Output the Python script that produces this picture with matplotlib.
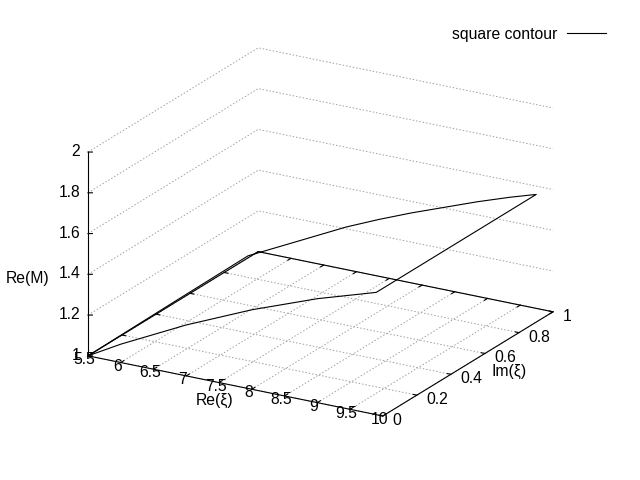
import matplotlib
matplotlib.use("Agg")
import matplotlib.pyplot as plt
import numpy as np

plt.rcParams['font.family'] = ['Liberation Sans', 'DejaVu Sans']
plt.rcParams['font.size'] = 11.3

# square contour in the xi plane, Re(M) read along each edge
re_low, re_high = 5.5, 9.9
im_low, im_high = 0.0, 0.94

# edge Im(xi) = im_low, going right
bottom_re = [5.5, 6.0, 6.5, 7.0, 7.5, 8.0, 8.5, 9.0, 9.5, 9.9]
bottom_m = [1.00, 1.09, 1.17, 1.25, 1.32, 1.39, 1.45, 1.51, 1.56, 1.60]
# edge Re(xi) = re_high, going up
right_im = [0.0, 0.94]
right_m = [1.60, 1.60]
# edge Im(xi) = im_high, going left
top_re = [9.9, 9.5, 9.0, 8.5, 8.0, 7.5, 7.0, 6.5, 6.0, 5.75, 5.5]
top_m = [1.60, 1.56, 1.505, 1.445, 1.385, 1.32, 1.25, 1.17, 1.09, 1.05, 1.01]
# edge Re(xi) = re_low, going back down
left_im = [0.94, 0.5, 0.0]
left_m = [1.01, 1.006, 1.0]

xticks = [5.5, 6, 6.5, 7, 7.5, 8, 8.5, 9, 9.5, 10]
yticks = [0, 0.2, 0.4, 0.6, 0.8, 1]
zticks = [1, 1.2, 1.4, 1.6, 1.8, 2]
x0, x1 = 5.5, 10
y0, y1 = 0, 1
z0, z1 = 1, 2

# whole contour
path_re = np.concatenate([bottom_re, np.full(len(right_im), re_high), top_re, np.full(len(left_im), re_low)])
path_im = np.concatenate([np.full(len(bottom_re), im_low), right_im, np.full(len(top_re), im_high), left_im])
path_m = np.concatenate([bottom_m, right_m, top_m, left_m])

W, H = 640, 480
fig = plt.figure(figsize=(W / 100, H / 100), dpi=100)
ax = fig.add_axes([0.15, 0.05, 0.67, 0.89], projection='3d', proj_type='ortho')
ax.set_box_aspect((1, 1, 0.64), zoom=1.2)
ax.view_init(elev=20.7, azim=-60)
ax.set_xlim(x0, x1)
ax.set_ylim(y0, y1)
ax.set_zlim(z0, z1)
ax.set_axis_off()
ax.computed_zorder = False


def project(xs, ys, zs):
    # data -> 2d projected coords of the 3d axes
    xs, ys, zs = np.broadcast_arrays(*[np.asarray(v, dtype=float) for v in (xs, ys, zs)])
    v = ax.get_proj() @ np.vstack([xs.ravel(), ys.ravel(), zs.ravel(), np.ones(xs.size)])
    return v[0] / v[3], v[1] / v[3]


# fit the projected box to the frame gnuplot used
fig.canvas.draw()
cx, cy, cz = np.meshgrid([x0, x1], [y0, y1], [z0, z1])
px, py = project(cx, cy, cz)
pix = ax.transData.transform(np.column_stack([px, py]))
pos = ax.get_position()
L, B, S = pos.x0 * W, pos.y0 * H, pos.width * W
k = (553 - 88) / (pix[:, 0].max() - pix[:, 0].min())
L2 = 88 - (pix[:, 0].min() - L) * k
B2 = (H - 416) - (pix[:, 1].min() - B) * k
ax.set_position([L2 / W, B2 / H, S * k / W, S * k / H])

grid_kw = dict(color='#a0a0a0', lw=0.7, ls=(0, (1.5, 2)), clip_on=False)
for x in xticks:
    ax.plot([x, x], [y0, y1], [z0, z0], **grid_kw)
for y in yticks:
    ax.plot([x0, x1], [y, y], [z0, z0], **grid_kw)
for z in zticks:
    ax.plot([x0, x0, x1], [y0, y1, y1], [z, z, z], **grid_kw)

# border
bk = dict(color='black', lw=0.8, clip_on=False)
ax.plot([x0, x1, x1, x0, x0], [y0, y0, y1, y1, y0], [z0] * 5, **bk)
ax.plot([x0, x0], [y0, y0], [z0, z1], **bk)


def label(x, y, z, s, **kw):
    u, v = project(x, y, z)
    ax.text2D(u[0], v[0], s, transform=ax.transData, **kw)


# tics (with mirrors on the back border)
for x in xticks:
    ax.plot([x, x], [y0, y0 + 0.018], [z0, z0], **bk)
    ax.plot([x, x], [y1, y1 - 0.018], [z0, z0], **bk)
    label(x, y0 - 0.02, z0 - 0.008, '%g' % x, ha='center', va='center')
for y in yticks:
    ax.plot([x1, x1 - 0.055], [y, y], [z0, z0], **bk)
    ax.plot([x0, x0 + 0.055], [y, y], [z0, z0], **bk)
    label(x1 + 0.15, y, z0 - 0.012, '%g' % y, ha='left', va='center')
for z in zticks:
    ax.plot([x0, x0 + 0.05], [y0, y0 + 0.0065], [z, z], **bk)
    label(x0 - 0.12, y0, z - 0.006, '%g' % z, ha='right', va='center')

label(4.58, y0, 1.32, 'Re(M)', ha='center', va='center')
label(7.43, y0, 0.91, 'Re(ξ)', ha='center', va='center')
label(10.5, 0.55, 0.97, 'Im(ξ)', ha='center', va='center')

ax.plot(path_re, path_im, path_m, color='black', lw=0.8, clip_on=False,
        label='square contour')

ax.legend(loc='center right', bbox_to_anchor=(606 / W, 1 - 34 / H),
          bbox_transform=fig.transFigure, frameon=False, markerfirst=False,
          handlelength=2.5, handletextpad=0.6, borderpad=0, borderaxespad=0)

fig.savefig('out.png', dpi=100, facecolor='white')
